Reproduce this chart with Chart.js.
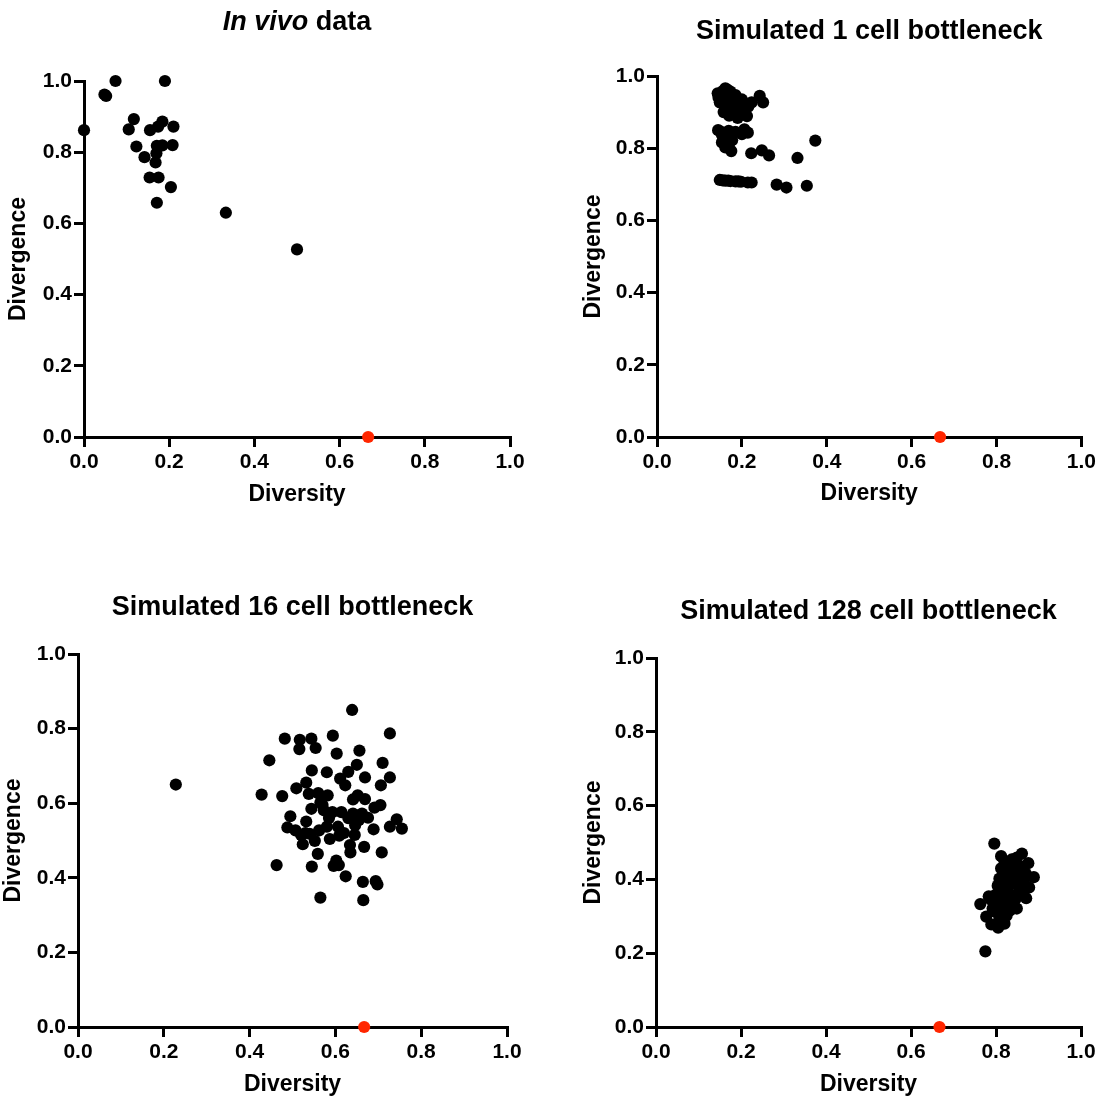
<!DOCTYPE html>
<html>
<head>
<meta charset="utf-8">
<script src="https://cdn.jsdelivr.net/npm/chart.js@4.4.1/dist/chart.umd.min.js"></script>
<style>
html,body{margin:0;padding:0;background:#fff;width:1099px;height:1099px;overflow:hidden}
canvas{position:absolute}
</style>
</head>
<body>
<canvas id="c1" width="550" height="550" style="left:0px;top:0px"></canvas>
<canvas id="c2" width="549" height="550" style="left:550px;top:0px"></canvas>
<canvas id="c3" width="550" height="549" style="left:0px;top:550px"></canvas>
<canvas id="c4" width="549" height="549" style="left:550px;top:550px"></canvas>
<script>
// ---- data ----
const tickValues = [0, 0.2, 0.4, 0.6, 0.8, 1.0];
const tickLabels = ['0.0', '0.2', '0.4', '0.6', '0.8', '1.0'];
const xAxisTitle = 'Diversity';
const yAxisTitle = 'Divergence';

const titleInVivo = [{text: 'In vivo', italic: true}, {text: ' data', italic: false}];
const titleSim1 = [{text: 'Simulated 1 cell bottleneck', italic: false}];
const titleSim16 = [{text: 'Simulated 16 cell bottleneck', italic: false}];
const titleSim128 = [{text: 'Simulated 128 cell bottleneck', italic: false}];

const inVivoX = [0, 0.048, 0.052, 0.074, 0.19, 0.105, 0.117, 0.123, 0.142, 0.155, 0.174, 0.184, 0.21, 0.171, 0.184, 0.208, 0.17, 0.168, 0.154, 0.175, 0.204, 0.171, 0.333, 0.5];
const inVivoY = [0.862, 0.962, 0.958, 1.0, 1.0, 0.864, 0.893, 0.816, 0.786, 0.862, 0.872, 0.886, 0.872, 0.818, 0.819, 0.82, 0.797, 0.771, 0.729, 0.729, 0.702, 0.658, 0.63, 0.527];

const sim1X = [0.143, 0.161, 0.152, 0.173, 0.185, 0.148, 0.169, 0.194, 0.161, 0.181, 0.157, 0.202, 0.190, 0.212, 0.223, 0.242, 0.250, 0.177, 0.166, 0.155, 0.178, 0.200, 0.215, 0.170, 0.145,
  0.144, 0.169, 0.185, 0.206, 0.214, 0.200, 0.153, 0.153, 0.169, 0.175, 0.161, 0.177, 0.160, 0.150,
  0.222, 0.247, 0.264, 0.331, 0.373,
  0.148, 0.161, 0.173, 0.185, 0.198, 0.214, 0.223, 0.282, 0.305, 0.353, 0.155, 0.168, 0.192];
const sim1Y = [0.952, 0.966, 0.947, 0.957, 0.947, 0.927, 0.932, 0.927, 0.918, 0.913, 0.900, 0.908, 0.884, 0.889, 0.927, 0.945, 0.927, 0.903, 0.962, 0.958, 0.940, 0.935, 0.915, 0.890, 0.940,
  0.850, 0.848, 0.845, 0.852, 0.843, 0.839, 0.837, 0.816, 0.807, 0.792, 0.802, 0.822, 0.828, 0.846,
  0.786, 0.794, 0.780, 0.773, 0.821,
  0.712, 0.710, 0.709, 0.708, 0.707, 0.705, 0.705, 0.699, 0.691, 0.696, 0.711, 0.710, 0.708];

const sim16X = [0.228, 0.639, 0.482, 0.517, 0.544, 0.594, 0.727, 0.516, 0.554, 0.603, 0.656, 0.446, 0.710, 0.650, 0.545, 0.580, 0.630, 0.611, 0.669, 0.727,
  0.623, 0.532, 0.706, 0.509, 0.428, 0.476, 0.538, 0.560, 0.582, 0.652, 0.641, 0.669, 0.565, 0.544, 0.573, 0.593, 0.614, 0.641, 0.691, 0.705,
  0.662, 0.676, 0.495, 0.532, 0.585, 0.630, 0.646, 0.743, 0.727, 0.755, 0.488, 0.507, 0.520, 0.540, 0.562, 0.580, 0.552, 0.587, 0.609, 0.645,
  0.689, 0.524, 0.634, 0.667, 0.635, 0.708, 0.559, 0.463, 0.545, 0.596, 0.608, 0.602, 0.624, 0.664, 0.694, 0.698, 0.565, 0.665,
  0.606, 0.570, 0.620, 0.655, 0.530];
const sim16Y = [0.650, 0.850, 0.773, 0.770, 0.773, 0.781, 0.787, 0.745, 0.748, 0.733, 0.741, 0.715, 0.708, 0.703, 0.688, 0.683, 0.684, 0.666, 0.669, 0.669,
  0.648, 0.655, 0.648, 0.640, 0.623, 0.619, 0.625, 0.627, 0.621, 0.621, 0.610, 0.611, 0.602, 0.585, 0.581, 0.576, 0.576, 0.572, 0.588, 0.595,
  0.572, 0.561, 0.565, 0.551, 0.560, 0.560, 0.541, 0.557, 0.537, 0.532, 0.535, 0.527, 0.515, 0.518, 0.527, 0.537, 0.499, 0.504, 0.513, 0.515,
  0.530, 0.490, 0.488, 0.483, 0.468, 0.468, 0.464, 0.434, 0.430, 0.432, 0.434, 0.446, 0.404, 0.389, 0.391, 0.382, 0.347, 0.340,
  0.537, 0.595, 0.520, 0.555, 0.520];

const sim128X = [0.796, 0.775, 0.763, 0.777, 0.783, 0.812, 0.812, 0.861, 0.876, 0.889, 0.878, 0.871, 0.849, 0.820, 0.805, 0.789,
  0.820, 0.837, 0.849, 0.829, 0.845, 0.861, 0.808, 0.825, 0.841, 0.857, 0.870, 0.804, 0.820, 0.837, 0.853, 0.866,
  0.800, 0.816, 0.833, 0.849, 0.861, 0.795, 0.812, 0.829, 0.845, 0.800, 0.816, 0.833, 0.808, 0.825, 0.792, 0.788];
const sim128Y = [0.497, 0.205, 0.333, 0.299, 0.354, 0.463, 0.430, 0.470, 0.444, 0.406, 0.378, 0.349, 0.321, 0.280, 0.269, 0.278,
  0.449, 0.454, 0.459, 0.435, 0.430, 0.435, 0.402, 0.406, 0.411, 0.406, 0.416, 0.383, 0.383, 0.387, 0.383, 0.392,
  0.359, 0.364, 0.359, 0.359, 0.368, 0.335, 0.340, 0.335, 0.345, 0.311, 0.316, 0.316, 0.292, 0.302, 0.321, 0.345];

const referenceX = [0.667];
const referenceY = [0];

// ---- styling / layout ----
const FONT = "'Liberation Sans', Arial, Helvetica, sans-serif";
const TITLE_SIZE = 27, AXIS_TITLE_SIZE = 23, TICK_SIZE = 21;
const DOT_R = 6.1;

const panels = [
  {id: 'c1', w: 550, h: 550, L: 84, R: 510, T: 81, B: 437, titleY: 23, xTitleY: 495, yTitleX: 19, title: titleInVivo, xs: inVivoX, ys: inVivoY},
  {id: 'c2', w: 549, h: 550, L: 107, R: 532, T: 76, B: 437, titleY: 32, xTitleY: 494, yTitleX: 44, title: titleSim1, xs: sim1X, ys: sim1Y},
  {id: 'c3', w: 550, h: 549, L: 78, R: 507, T: 104, B: 477, titleY: 58, xTitleY: 535, yTitleX: 13, title: titleSim16, xs: sim16X, ys: sim16Y},
  {id: 'c4', w: 549, h: 549, L: 106, R: 531, T: 108, B: 477, titleY: 62, xTitleY: 535, yTitleX: 44, title: titleSim128, xs: sim128X, ys: sim128Y}
];

const panelTitlePlugin = {
  id: 'panelTitle',
  afterDraw(chart, args, opts) {
    const ctx = chart.ctx;
    const segs = opts.segments || [];
    const cx = (chart.chartArea.left + chart.chartArea.right) / 2;
    ctx.save();
    ctx.fillStyle = '#000';
    ctx.textBaseline = 'middle';
    ctx.textAlign = 'left';
    let total = 0;
    const fonts = segs.map(s => (s.italic ? 'italic ' : '') + 'bold ' + TITLE_SIZE + 'px ' + FONT);
    segs.forEach((s, i) => { ctx.font = fonts[i]; total += ctx.measureText(s.text).width; });
    let x = cx - total / 2;
    segs.forEach((s, i) => { ctx.font = fonts[i]; ctx.fillText(s.text, x, opts.y); x += ctx.measureText(s.text).width; });
    ctx.restore();
  }
};

function makeChart(p) {
  const lhAxis = AXIS_TITLE_SIZE * 1.2;
  const axisCommon = {
    type: 'linear', min: 0, max: 1,
    afterBuildTicks: s => { s.ticks = tickValues.map(v => ({value: v})); },
    ticks: {
      color: '#000', font: {family: FONT, size: TICK_SIZE, weight: 'bold'},
      autoSkip: false, maxRotation: 0, minRotation: 0,
      callback: (v) => { const i = tickValues.findIndex(t => Math.abs(t - v) < 1e-9); return i >= 0 ? tickLabels[i] : ''; }
    },
    grid: {display: true, drawOnChartArea: false, drawTicks: true, tickLength: 10, tickWidth: 3, tickColor: '#000', lineWidth: 3, color: '#000'},
    border: {display: true, width: 3, color: '#000'}
  };
  const data = {
    datasets: [
      {label: 'values', data: p.xs.map((x, i) => ({x: x, y: p.ys[i]})), pointRadius: DOT_R, pointBackgroundColor: '#000', pointBorderWidth: 0, pointBorderColor: '#000', showLine: false, clip: false},
      {label: 'reference', data: referenceX.map((x, i) => ({x: x, y: referenceY[i]})), pointRadius: DOT_R, pointBackgroundColor: '#ff2600', pointBorderWidth: 0, pointBorderColor: '#ff2600', showLine: false, clip: false}
    ]
  };
  return new Chart(document.getElementById(p.id), {
    type: 'scatter',
    data: data,
    plugins: [panelTitlePlugin],
    options: {
      responsive: false, animation: false, devicePixelRatio: 1, events: [],
      layout: {padding: {left: 0, top: p.T, right: p.w - p.R, bottom: 0}},
      plugins: {legend: {display: false}, tooltip: {enabled: false}, title: {display: false},
        panelTitle: {segments: p.title, y: p.titleY}},
      scales: {
        x: Object.assign({}, axisCommon, {
          position: 'bottom',
          ticks: Object.assign({}, axisCommon.ticks, {padding: 3}),
          title: {display: true, text: xAxisTitle, color: '#000', font: {family: FONT, size: AXIS_TITLE_SIZE, weight: 'bold'},
            padding: {top: 0, bottom: Math.max(0, p.h - p.xTitleY - lhAxis / 2)}},
          afterFit: s => { s.height = p.h - p.B; }
        }),
        y: Object.assign({}, axisCommon, {
          position: 'left',
          ticks: Object.assign({}, axisCommon.ticks, {padding: 2}),
          title: {display: true, text: yAxisTitle, color: '#000', font: {family: FONT, size: AXIS_TITLE_SIZE, weight: 'bold'},
            padding: {top: Math.max(0, p.yTitleX - lhAxis / 2), bottom: 0}},
          afterFit: s => { s.width = p.L; }
        })
      }
    }
  });
}

panels.forEach(makeChart);
</script>
</body>
</html>
